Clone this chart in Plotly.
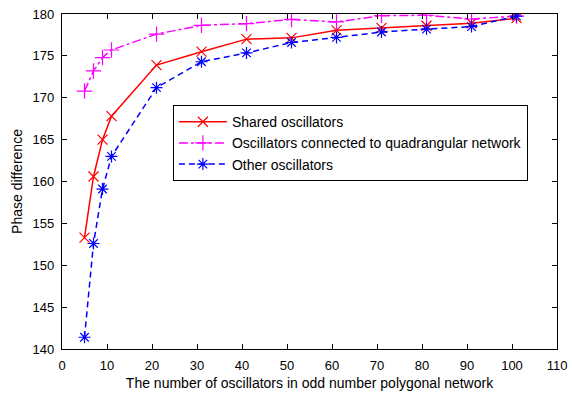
import plotly.graph_objects as go

n_osc = [5, 7, 9, 11, 21, 31, 41, 51, 61, 71, 81, 91, 101]
shared = [153.3, 160.6, 165.0, 167.8, 173.9, 175.5, 177.0, 177.15, 178.05, 178.35, 178.6, 178.9, 179.5]
quad = [170.8, 173.2, 174.8, 175.7, 177.6, 178.65, 178.85, 179.35, 179.05, 179.8, 179.85, 179.4, 179.75]
other = [141.4, 152.6, 159.1, 163.0, 171.2, 174.3, 175.35, 176.6, 177.2, 177.85, 178.2, 178.5, 179.75]

names = ["Shared oscillators", "Oscillators connected to quadrangular network", "Other oscillators"]
xticks = list(range(0, 111, 10))
yticks = list(range(140, 181, 5))

fig = go.Figure()
fig.add_trace(go.Scatter(x=n_osc, y=shared, name=names[0], mode="lines+markers",
                         line=dict(color="#ff0000", width=1.5, dash="solid"),
                         marker=dict(symbol="x-thin-open", size=10, line=dict(color="#ff0000", width=1.2))))
fig.add_trace(go.Scatter(x=n_osc, y=quad, name=names[1], mode="lines+markers",
                         line=dict(color="#ff00ff", width=1.5, dash="dashdot"),
                         marker=dict(symbol="cross-thin-open", size=11, line=dict(color="#ff00ff", width=1.2))))
fig.add_trace(go.Scatter(x=n_osc, y=other, name=names[2], mode="lines+markers",
                         line=dict(color="#0000ff", width=1.5, dash="6px,4px"),
                         marker=dict(symbol="asterisk-open", size=10, line=dict(color="#0000ff", width=1.2))))

axis_common = dict(showgrid=False, zeroline=False, showline=True, linecolor="black", linewidth=1.2,
                   mirror="ticks", ticks="inside", ticklen=5, tickcolor="black",
                   tickfont=dict(size=13, color="black"), ticklabelstandoff=4, automargin=False)
fig.update_xaxes(range=[0, 110], tickvals=xticks,
                 title=dict(text="The number of oscillators in odd number polygonal network",
                            font=dict(size=14, color="black"), standoff=6), **axis_common)
fig.update_yaxes(range=[140, 180], tickvals=yticks,
                 title=dict(text="Phase difference", font=dict(size=14, color="black"), standoff=6),
                 **axis_common)

fig.update_layout(
    width=572, height=395,
    margin=dict(l=62, r=15, t=14, b=46),
    paper_bgcolor="white", plot_bgcolor="white",
    font=dict(family="Liberation Sans, Arial, sans-serif", size=14, color="black"),
    legend=dict(x=0.224, y=0.728, xanchor="left", yanchor="top",
                bordercolor="black", borderwidth=1, bgcolor="white",
                font=dict(size=14), tracegroupgap=0, itemwidth=48),
    showlegend=True,
)

fig.write_html("out.html")
